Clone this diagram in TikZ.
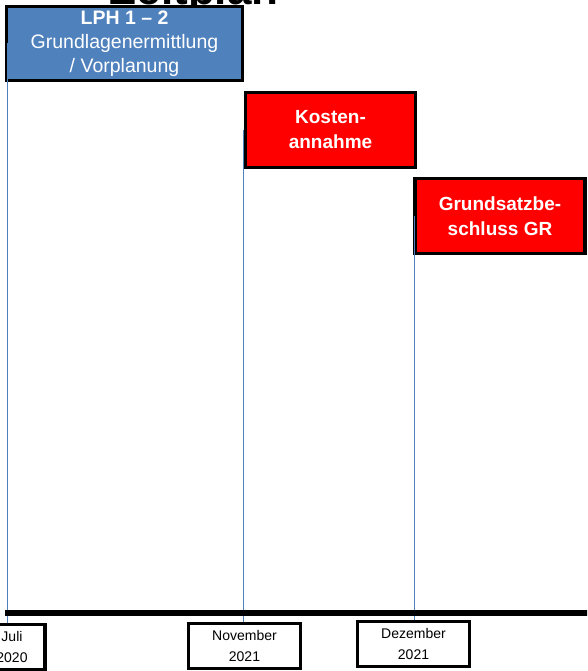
\documentclass[tikz,border=0pt]{standalone}
\usepackage{fontspec}
\setmainfont{Liberation Sans}
\definecolor{phaseblue}{HTML}{4F81BD}
\definecolor{milered}{HTML}{FF0000}
\begin{document}
\begin{tikzpicture}[x=1pt,y=-1pt,
  phase/.style={draw=black,line width=3.5pt,fill=phaseblue,text=white,align=center,inner sep=0pt,font=\fontsize{19.5}{24}\selectfont},
  milestone/.style={draw=black,line width=3.5pt,fill=milered,text=white,align=center,inner sep=0pt,font=\bfseries\fontsize{19}{25}\selectfont},
  datebox/.style={draw=black,line width=3.5pt,fill=white,align=center,inner sep=0pt,font=\fontsize{14}{21}\selectfont},
  guide/.style={draw=phaseblue,line width=1.2pt}]
\useasboundingbox (0,0) rectangle (587,671);
\clip (0,0) rectangle (587,671);

% title, mostly hidden behind the first box
\node[anchor=base east,font=\bfseries\fontsize{44}{44}\selectfont] (title) at (282,5) {Zeitplan};

\node[phase,minimum width=236pt,minimum height=74pt] (lph) at (124.5,43.5) {\textbf{LPH 1 -- 2}\\Grundlagenermittlung\\/ Vorplanung};
\node[milestone,minimum width=170pt,minimum height=75pt] (kosten) at (330.5,130) {Kosten-\\annahme};
\node[milestone,minimum width=170pt,minimum height=75pt] (gb) at (500,216) {Grundsatzbe-\\schluss GR};

\node[datebox,minimum width=66pt,minimum height=45pt] (juli) at (12,647) {Juli\\2020};
\node[datebox,minimum width=112pt,minimum height=45pt] (nov) at (244.5,646) {November\\2021};
\node[datebox,minimum width=112pt,minimum height=45pt] (dez) at (413.5,644) {Dezember\\2021};

% guide lines down to the dates
\path[guide] ([xshift=3pt]lph.west) -- ([xshift=3pt]lph.west |- juli.north);
\path[guide] (kosten.west) -- (kosten.west |- nov.north);
\path[guide] ([xshift=1pt]gb.west) -- ([xshift=1pt]gb.west |- dez.north);

% time axis
\coordinate (tl0) at (5,613);
\coordinate (tl1) at (590,613);
\path[draw,line width=6pt] (tl0) -- (tl1);
\end{tikzpicture}
\end{document}
